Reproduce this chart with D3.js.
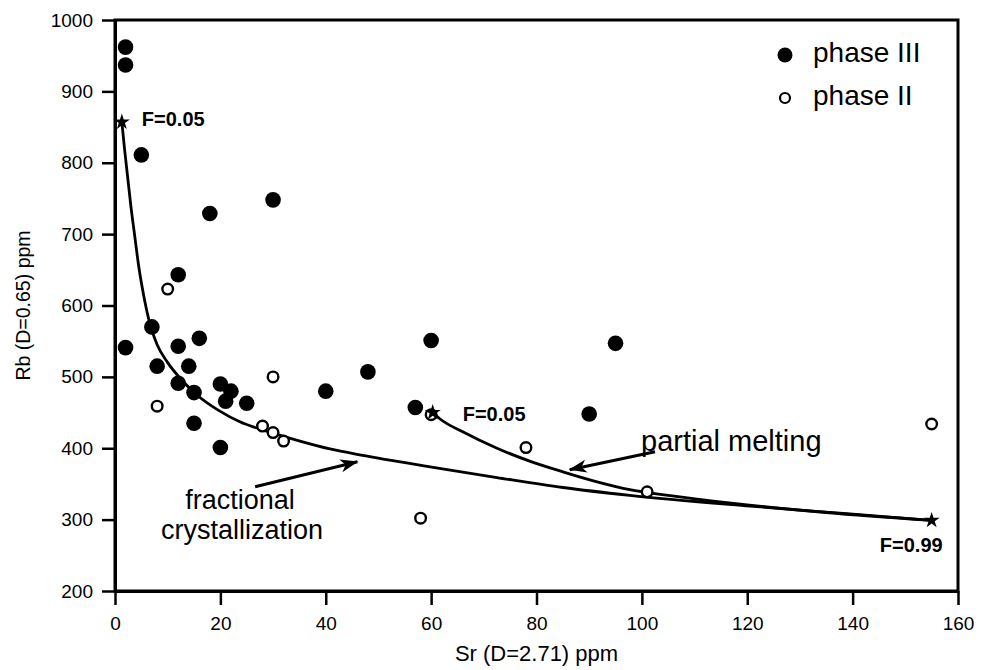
<!doctype html>
<html>
<head>
<meta charset="utf-8"/>
<title>Rb vs Sr</title>
<script src="https://cdnjs.cloudflare.com/ajax/libs/d3/7.8.5/d3.min.js"></script>
<style>
  body { margin: 0; background: #fff; }
  text { font-family: "Liberation Sans", Arial, Helvetica, sans-serif; fill: #000; }
</style>
</head>
<body>
<svg width="981" height="670"></svg>
<script>
// phase III samples (filled dots)
var p3Sr = [2, 2, 5, 18, 30, 12, 7, 2, 12, 16, 8, 14, 12, 15, 20, 22, 21, 25, 15, 20, 40, 48, 57, 60, 90, 95]
var p3Rb = [962, 937, 811, 729, 748, 643, 570, 541, 543, 554, 515, 515, 491, 478, 490, 480, 466, 463, 435, 401, 480, 507, 457, 551, 448, 547]

// phase II samples (open dots)
var p2Sr = [10, 8, 30, 28, 30, 32, 60, 78, 58, 101, 155]
var p2Rb = [623, 459, 500, 431, 422, 410, 447, 401, 302, 339, 434]

// fractional crystallization curve
var fcSr = [1.3, 1.8, 2.4, 3.0, 3.7, 4.5, 5.5, 6.6, 8, 10, 12.5, 15.5, 19.9, 23.7, 28.8, 35.1, 40.8, 47, 59.8, 72.5, 85, 97.7, 120.5, 139.5, 155]
var fcRb = [857, 820, 780, 740, 700, 655, 612, 575, 545, 520, 497, 475, 452, 437, 424, 410, 399, 390, 374, 359, 345, 334, 319, 308, 299]

// partial melting curve
var pmSr = [60.3, 61.7, 66, 72.5, 78.7, 85, 91.5, 97.7, 105, 117, 135, 155]
var pmRb = [450, 441, 423, 400, 382, 367, 353, 342, 334, 323, 310, 299]

// stars at the curve ends
var starSr = [1.3, 60.3, 155]
var starRb = [857, 450, 299]
var starLabels = ["F=0.05", "F=0.05", "F=0.99"]

// arrows: [fromSr, fromRb, toSr, toRb]
var arrows = [[26.6, 346, 46.0, 381], [102.5, 395, 86.3, 370]]

var xTicks = [0, 20, 40, 60, 80, 100, 120, 140, 160]
var yTicks = [200, 300, 400, 500, 600, 700, 800, 900, 1000]

var svg = d3.select("svg")
svg.append("rect").attr("width", 981).attr("height", 670).attr("fill", "#fff")

var x = d3.scaleLinear().domain([0, 160]).range([115, 958])
var y = d3.scaleLinear().domain([200, 1000]).range([591, 20])

var defs = svg.append("defs")
defs.append("marker")
  .attr("id", "head")
  .attr("markerUnits", "userSpaceOnUse")
  .attr("markerWidth", 24).attr("markerHeight", 20)
  .attr("refX", 0).attr("refY", 0)
  .attr("viewBox", "-20 -10 24 20")
  .attr("orient", "auto")
  .append("path")
  .attr("d", "M1,0 L-17,-6.5 L-12,0 L-17,6.5 Z")
  .attr("fill", "#000")

// axes
var xAxis = d3.axisBottom(x).tickValues(xTicks).tickFormat(d3.format("d"))
  .tickSize(14).tickSizeOuter(0).tickPadding(12)
var yAxis = d3.axisLeft(y).tickValues(yTicks).tickFormat(d3.format("d"))
  .tickSize(13).tickSizeOuter(0).tickPadding(9)

var gx = svg.append("g").attr("transform", "translate(0," + y(200) + ")").call(xAxis)
var gy = svg.append("g").attr("transform", "translate(" + x(0) + ",0)").call(yAxis)

;[gx, gy].forEach(function (g) {
  g.attr("font-family", null).attr("font-size", null)
  g.select(".domain").attr("stroke-width", 3)
  g.selectAll(".tick line").attr("stroke-width", 2.5)
  g.selectAll(".tick text").style("font-size", "19px")
})

// frame
svg.append("rect")
  .attr("x", x(0)).attr("y", y(1000))
  .attr("width", x(160) - x(0)).attr("height", y(200) - y(1000))
  .attr("fill", "none").attr("stroke", "#000").attr("stroke-width", 3)

// axis titles
svg.append("text")
  .attr("x", (x(0) + x(160)) / 2).attr("y", 661)
  .attr("text-anchor", "middle")
  .style("font-size", "22px")
  .text("Sr (D=2.71) ppm")

svg.append("text")
  .attr("transform", "translate(30," + (y(200) + y(1000)) / 2 + ") rotate(-90)")
  .attr("text-anchor", "middle")
  .style("font-size", "19.5px")
  .text("Rb (D=0.65) ppm")

// model curves
var line = d3.line()
  .x(function (d) { return x(d[0]) })
  .y(function (d) { return y(d[1]) })
  .curve(d3.curveMonotoneX)

svg.append("path")
  .datum(d3.zip(fcSr, fcRb))
  .attr("d", line)
  .attr("fill", "none").attr("stroke", "#000").attr("stroke-width", 2.8)

svg.append("path")
  .datum(d3.zip(pmSr, pmRb))
  .attr("d", line)
  .attr("fill", "none").attr("stroke", "#000").attr("stroke-width", 2.8)

// arrows
svg.selectAll(".arrow")
  .data(arrows)
  .enter().append("line")
  .attr("class", "arrow")
  .attr("x1", function (d) { return x(d[0]) })
  .attr("y1", function (d) { return y(d[1]) })
  .attr("x2", function (d) { return x(d[2]) })
  .attr("y2", function (d) { return y(d[3]) })
  .attr("stroke", "#000").attr("stroke-width", 3)
  .attr("marker-end", "url(#head)")

// samples
svg.selectAll(".p2")
  .data(d3.zip(p2Sr, p2Rb))
  .enter().append("circle")
  .attr("class", "p2")
  .attr("cx", function (d) { return x(d[0]) })
  .attr("cy", function (d) { return y(d[1]) })
  .attr("r", 5.3)
  .attr("fill", "#fff").attr("stroke", "#000").attr("stroke-width", 2.4)

svg.selectAll(".p3")
  .data(d3.zip(p3Sr, p3Rb))
  .enter().append("circle")
  .attr("class", "p3")
  .attr("cx", function (d) { return x(d[0]) })
  .attr("cy", function (d) { return y(d[1]) })
  .attr("r", 7.8)
  .attr("fill", "#000")

// stars + labels
var star = d3.symbol().type(d3.symbolStar).size(80)
var stars = d3.zip(starSr, starRb, starLabels)
svg.selectAll(".star")
  .data(stars)
  .enter().append("path")
  .attr("class", "star")
  .attr("d", star)
  .attr("transform", function (d) { return "translate(" + x(d[0]) + "," + y(d[1]) + ")" })
  .attr("fill", "#000")

var labelOffsets = [[20, 4, "start"], [30, 8, "start"], [11, 32, "end"]]
svg.selectAll(".flab")
  .data(stars)
  .enter().append("text")
  .attr("class", "flab")
  .attr("x", function (d, i) { return x(d[0]) + labelOffsets[i][0] })
  .attr("y", function (d, i) { return y(d[1]) + labelOffsets[i][1] })
  .attr("text-anchor", function (d, i) { return labelOffsets[i][2] })
  .style("font-size", "20px").style("font-weight", "bold")
  .text(function (d) { return d[2] })

// annotations
svg.append("text")
  .attr("x", 641).attr("y", 451)
  .style("font-size", "29px")
  .text("partial melting")

svg.append("text")
  .attr("x", 240).attr("y", 509)
  .attr("text-anchor", "middle")
  .style("font-size", "27px")
  .text("fractional")
svg.append("text")
  .attr("x", 242).attr("y", 539)
  .attr("text-anchor", "middle")
  .style("font-size", "27px")
  .text("crystallization")

// legend
var legend = svg.append("g").attr("transform", "translate(785,0)")
legend.append("circle").attr("cx", 0).attr("cy", 55).attr("r", 7.5).attr("fill", "#000")
legend.append("circle").attr("cx", 0).attr("cy", 98).attr("r", 5)
  .attr("fill", "#fff").attr("stroke", "#000").attr("stroke-width", 2.2)
legend.append("text").attr("x", 28).attr("y", 62).style("font-size", "28px").text("phase III")
legend.append("text").attr("x", 28).attr("y", 105).style("font-size", "28px").text("phase II")
</script>
</body>
</html>
